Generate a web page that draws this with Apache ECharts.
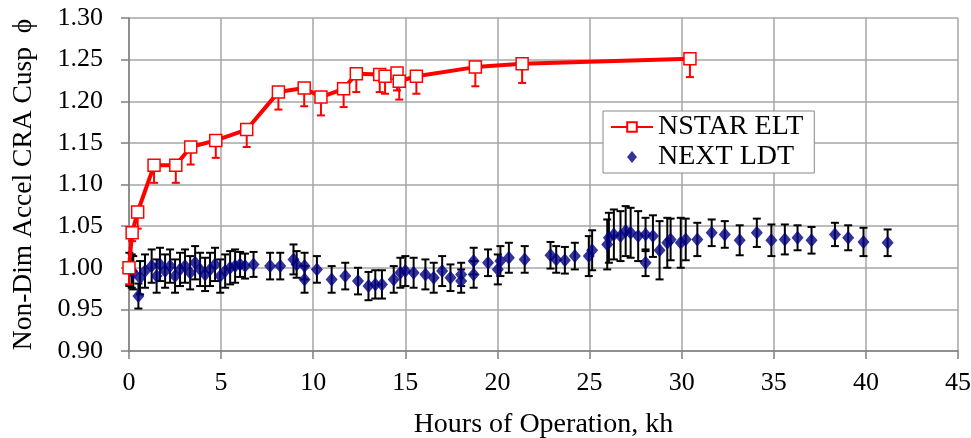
<!DOCTYPE html>
<html>
<head>
<meta charset="utf-8">
<title>Non-Dim Accel CRA Cusp</title>
<script src="https://cdn.jsdelivr.net/npm/echarts@6/dist/echarts.min.js"></script>
<style>
  html, body { margin: 0; padding: 0; background: #fff; }
  #chart { width: 971px; height: 438px; }
</style>
</head>
<body>
<div id="chart"></div>
<script>
// NSTAR ELT: hours (kh), phi, lower error
const nstarHours = [0, 0.17, 0.47, 1.36, 2.54, 3.35, 4.71, 6.39, 8.11, 9.51, 10.42, 11.65, 12.34, 13.61, 13.9, 14.55, 14.67, 15.6, 18.8, 21.34, 30.45];
const nstarPhi = [1.000, 1.042, 1.067, 1.123, 1.123, 1.145, 1.153, 1.166, 1.211, 1.216, 1.205, 1.215, 1.233, 1.232, 1.230, 1.234, 1.224, 1.230, 1.241, 1.245, 1.251];
const nstarErr = [0.02, 0.01, 0.02, 0.021, 0.021, 0.021, 0.021, 0.021, 0.021, 0.022, 0.022, 0.022, 0.022, 0.021, 0.021, 0.021, 0.022, 0.021, 0.023, 0.023, 0.022];

// NEXT LDT: hours (kh), phi, symmetric error
const nextHours = [0.02, 0.15, 0.23, 0.51, 0.60, 0.87, 1.23, 1.50, 1.68, 1.96, 2.23, 2.50, 2.77, 3.04, 3.32, 3.59, 3.86, 4.13, 4.40, 4.67,
  4.95, 5.22, 5.49, 5.76, 6.03, 6.30, 6.76, 7.66, 8.21, 8.93, 9.10, 9.53, 9.53, 10.20, 11.00, 11.74, 12.43, 13.00, 13.37, 13.73,
  14.37, 14.73, 15.00, 15.45, 16.09, 16.54, 17.00, 17.45, 18.03, 18.03, 18.71, 18.71, 19.49, 20.02, 20.16, 20.62, 21.48, 22.88, 23.19, 23.66,
  24.20, 24.96, 25.14, 25.96, 26.05, 26.32, 26.68, 26.96, 27.23, 27.64, 28.04, 28.04, 28.44, 28.80, 29.22, 29.40, 29.95, 30.22, 30.85, 31.63,
  32.34, 33.15, 34.08, 34.87, 35.60, 36.29, 37.05, 38.32, 39.04, 39.87, 41.18];
const nextPhi = [0.998, 0.996, 0.994, 0.966, 0.988, 0.996, 1.002, 0.990, 1.004, 0.996, 1.002, 0.990, 0.998, 1.002, 0.994, 1.006, 0.998, 0.992, 0.998, 1.004,
  0.990, 0.996, 1.000, 1.002, 1.004, 1.002, 1.004, 1.002, 1.002, 1.010, 1.004, 1.002, 0.986, 0.998, 0.986, 0.990, 0.984, 0.978, 0.980, 0.980,
  0.986, 0.994, 0.996, 0.994, 0.992, 0.988, 0.996, 0.988, 0.992, 0.984, 1.008, 0.992, 1.006, 0.998, 1.008, 1.012, 1.010, 1.015, 1.010, 1.009,
  1.014, 1.014, 1.021, 1.028, 1.036, 1.040, 1.038, 1.044, 1.042, 1.038, 1.040, 1.006, 1.038, 1.021, 1.030, 1.034, 1.030, 1.034, 1.034, 1.042,
  1.040, 1.033, 1.042, 1.033, 1.034, 1.036, 1.033, 1.040, 1.036, 1.031, 1.030];
const nextErr = [0.02, 0.02, 0.02, 0.015, 0.02, 0.02, 0.02, 0.02, 0.02, 0.02, 0.02, 0.02, 0.02, 0.02, 0.02, 0.02, 0.02, 0.02, 0.02, 0.02,
  0.02, 0.02, 0.02, 0.02, 0.015, 0.015, 0.015, 0.016, 0.016, 0.018, 0.016, 0.016, 0.016, 0.016, 0.016, 0.016, 0.016, 0.017, 0.017, 0.017,
  0.016, 0.018, 0.018, 0.018, 0.018, 0.018, 0.018, 0.016, 0.014, 0.014, 0.016, 0.016, 0.016, 0.018, 0.018, 0.018, 0.016, 0.016, 0.016, 0.016,
  0.016, 0.024, 0.024, 0.03, 0.03, 0.03, 0.03, 0.03, 0.03, 0.03, 0.02, 0.016, 0.025, 0.035, 0.03, 0.025, 0.03, 0.025, 0.02, 0.016,
  0.016, 0.018, 0.017, 0.019, 0.018, 0.015, 0.016, 0.014, 0.015, 0.017, 0.016];

const xTicks = [0, 5, 10, 15, 20, 25, 30, 35, 40, 45];
const yTicks = [0.90, 0.95, 1.00, 1.05, 1.10, 1.15, 1.20, 1.25, 1.30];

const FONT = 'Liberation Serif';
// small diamond centred in the 42x12 legend slot (the moveTo points pad the box)
const LEGEND_DIAMOND = 'path://M0,6 M42,6 M21,0 L26,6 L21,12 L16,6 Z';

function errorBars(color, capTop) {
  return function (params, api) {
    const x = api.value(0);
    const top = api.coord([x, api.value(2)]);
    const bot = api.coord([x, api.value(1)]);
    const hw = 4;
    const children = [
      { type: 'line', shape: { x1: top[0], y1: top[1], x2: bot[0], y2: bot[1] }, style: { stroke: color, lineWidth: 2 } },
      { type: 'line', shape: { x1: bot[0] - hw, y1: bot[1], x2: bot[0] + hw, y2: bot[1] }, style: { stroke: color, lineWidth: 2 } }
    ];
    if (capTop) {
      children.push({ type: 'line', shape: { x1: top[0] - hw, y1: top[1], x2: top[0] + hw, y2: top[1] }, style: { stroke: color, lineWidth: 2 } });
    }
    return { type: 'group', children: children };
  };
}

const nstarData = nstarHours.map((h, i) => [h, nstarPhi[i]]);
const nstarBars = nstarHours.map((h, i) => [h, nstarPhi[i] - nstarErr[i], nstarPhi[i]]);
const nextData = nextHours.map((h, i) => [h, nextPhi[i]]);
const nextBars = nextHours.map((h, i) => [h, nextPhi[i] - nextErr[i], nextPhi[i] + nextErr[i]]);

const chart = echarts.init(document.getElementById('chart'), null, { renderer: 'canvas' });
chart.setOption({
  animation: false,
  backgroundColor: '#fff',
  textStyle: { fontFamily: FONT, color: '#000' },
  grid: { left: 129, right: 13, top: 18, bottom: 87, outerBoundsMode: 'none', containLabel: false },
  legend: {
    data: [
      { name: 'NSTAR ELT' },
      { name: 'NEXT LDT', icon: LEGEND_DIAMOND }
    ],
    orient: 'vertical',
    left: 603,
    top: 111,
    padding: [2, 11, 2, 7],
    itemGap: 2,
    itemWidth: 42,
    itemHeight: 12,
    backgroundColor: '#fff',
    borderColor: '#888',
    borderWidth: 1,
    borderRadius: 0,
    textStyle: { fontFamily: FONT, fontSize: 28, color: '#000' }
  },
  xAxis: {
    type: 'value',
    min: xTicks[0],
    max: xTicks[xTicks.length - 1],
    interval: 5,
    name: 'Hours of Operation, kh',
    nameLocation: 'middle',
    nameGap: 60,
    nameTextStyle: { fontFamily: FONT, fontSize: 28, color: '#000' },
    axisLine: { onZero: false, lineStyle: { color: '#808080', width: 1.5 } },
    axisTick: { show: true, inside: false, length: 8, lineStyle: { color: '#808080', width: 1.5 } },
    axisLabel: { fontFamily: FONT, fontSize: 26, color: '#000', margin: 19 },
    splitLine: { show: true, lineStyle: { color: '#a6a6a6', width: 1.5 } }
  },
  yAxis: {
    type: 'value',
    min: yTicks[0],
    max: yTicks[yTicks.length - 1],
    interval: 0.05,
    name: 'Non-Dim Accel CRA Cusp  \u03d5',
    nameLocation: 'middle',
    nameGap: 91,
    nameTextStyle: { fontFamily: FONT, fontSize: 27.5, color: '#000' },
    axisLine: { show: true, onZero: false, lineStyle: { color: '#808080', width: 1.5 } },
    axisTick: { show: true, inside: false, length: 8, lineStyle: { color: '#808080', width: 1.5 } },
    axisLabel: { fontFamily: FONT, fontSize: 26, color: '#000', margin: 26, formatter: v => v.toFixed(2) },
    splitLine: { show: true, lineStyle: { color: '#a6a6a6', width: 1.5 } }
  },
  series: [
    {
      name: 'NEXT LDT err',
      type: 'custom',
      renderItem: errorBars('#000', true),
      data: nextBars,
      z: 2,
      silent: true
    },
    {
      name: 'NEXT LDT',
      type: 'scatter',
      symbol: 'diamond',
      symbolSize: [12, 14],
      itemStyle: { color: '#000080' },
      data: nextData,
      z: 3
    },
    {
      name: 'NSTAR ELT err',
      type: 'custom',
      renderItem: errorBars('#ff0000', false),
      data: nstarBars,
      z: 4,
      silent: true
    },
    {
      name: 'NSTAR ELT',
      type: 'line',
      symbol: 'rect',
      symbolSize: 12,
      showAllSymbol: true,
      lineStyle: { color: '#ff0000', width: 4 },
      itemStyle: { color: '#fff', borderColor: '#ff0000', borderWidth: 1.5 },
      data: nstarData,
      z: 5
    }
  ]
});
</script>
</body>
</html>
